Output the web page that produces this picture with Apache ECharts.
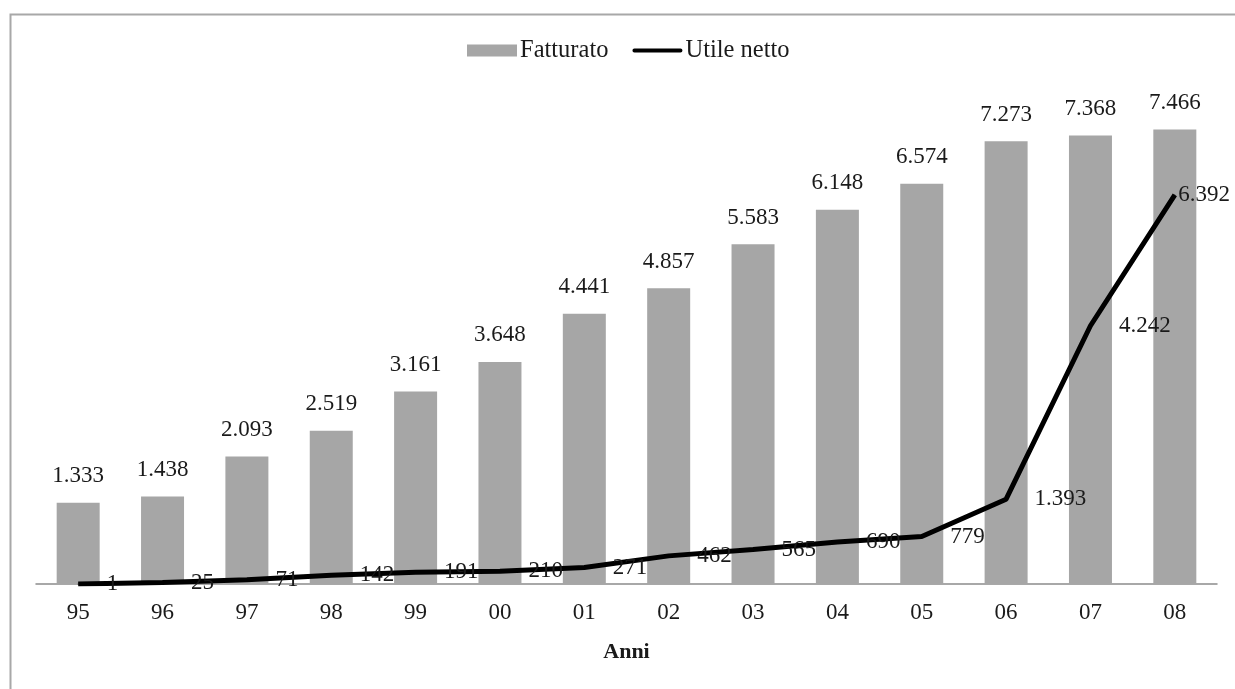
<!DOCTYPE html>
<html>
<head>
<meta charset="utf-8">
<script src="https://cdn.jsdelivr.net/npm/echarts@6/dist/echarts.min.js"></script>
<style>
  html, body { margin: 0; padding: 0; background: #fff; }
  #chart { width: 1235px; height: 689px; }
</style>
</head>
<body>
<div id="chart"></div>
<script>
// Anni (ultime due cifre)
const anni = ['95', '96', '97', '98', '99', '00', '01', '02', '03', '04', '05', '06', '07', '08'];
// Fatturato
const fatturato = [1333, 1438, 2093, 2519, 3161, 3648, 4441, 4857, 5583, 6148, 6574, 7273, 7368, 7466];
// Utile netto
const utileNetto = [1, 25, 71, 142, 191, 210, 271, 462, 565, 690, 779, 1393, 4242, 6392];

const FONT = '"Liberation Serif", "Times New Roman", serif';
const TEXT = '#1a1a1a';

// Italian thousands separator: 1333 -> 1.333
function fmt(v) {
  return String(v).replace(/\B(?=(\d{3})+(?!\d))/g, '.');
}

const lineData = utileNetto.map(function (v, i) {
  if (i === utileNetto.length - 1) {
    return { value: v, label: { distance: 3 } };
  }
  return v;
});

const chart = echarts.init(document.getElementById('chart'), null, { renderer: 'canvas' });
chart.setOption({
  backgroundColor: '#fff',
  animation: false,
  graphic: [{
    type: 'rect',
    left: 8, top: 12,
    shape: { width: 1300, height: 800 },
    style: { fill: 'none', stroke: '#a8a8a8', lineWidth: 2 },
    silent: true
  }],
  legend: {
    left: 462, top: 33,
    itemWidth: 50, itemHeight: 12,
    itemGap: 24,
    textStyle: { fontFamily: FONT, fontSize: 24.5, color: TEXT, padding: [0, 0, 0, -2] },
    data: [
      { name: 'Fatturato', icon: 'rect' },
      {
        name: 'Utile netto',
        icon: 'path://M2,0 L50,0 A2,2 0 0 1 50,4 L2,4 A2,2 0 0 1 2,0 Z',
        itemStyle: { color: '#000' }
      }
    ]
  },
  grid: { left: 36, right: 18, top: 97, bottom: 105 },
  xAxis: {
    type: 'category',
    data: anni,
    name: 'Anni',
    nameLocation: 'middle',
    nameGap: 57,
    nameTextStyle: { fontFamily: FONT, fontSize: 22, fontWeight: 'bold', color: TEXT },
    axisLine: { lineStyle: { color: '#8c8c8c', width: 1.5 } },
    axisTick: { show: false },
    axisLabel: { fontFamily: FONT, fontSize: 23, color: TEXT, margin: 17 }
  },
  yAxis: {
    type: 'value',
    min: 0, max: 8000,
    show: false,
    splitLine: { show: false }
  },
  series: [
    {
      name: 'Fatturato',
      type: 'bar',
      data: fatturato,
      barWidth: 43,
      itemStyle: { color: '#a6a6a6' },
      label: {
        show: true, position: 'top', distance: 15,
        fontFamily: FONT, fontSize: 23, color: TEXT,
        formatter: function (p) { return fmt(p.value); }
      },
      z: 1
    },
    {
      name: 'Utile netto',
      type: 'line',
      data: lineData,
      symbol: 'circle',
      symbolSize: 1,
      showSymbol: true,
      itemStyle: { color: '#000' },
      lineStyle: { color: '#000', width: 5 },
      label: {
        show: true, position: 'right', distance: 28,
        fontFamily: FONT, fontSize: 23, color: TEXT,
        formatter: function (p) { return fmt(p.value); }
      },
      z: 3
    }
  ]
});
</script>
</body>
</html>
